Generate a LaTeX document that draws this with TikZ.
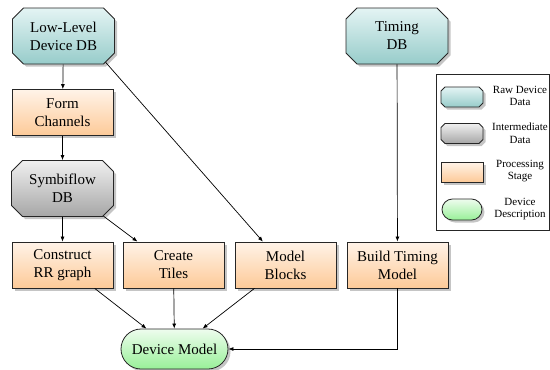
\documentclass[tikz,border=0pt]{standalone}
\usepackage{fontspec}
\setmainfont{Liberation Serif}
\usepackage{xcolor}
\usepackage{tikz}
\usetikzlibrary{shapes.misc, arrows.meta, positioning, shadows}
\definecolor{rawtop}{HTML}{E4F4F4}
\definecolor{rawbot}{HTML}{97CCCA}
\definecolor{midtop}{HTML}{F0F0F0}
\definecolor{midbot}{HTML}{A6A6A6}
\definecolor{proctop}{HTML}{FFF3E8}
\definecolor{procbot}{HTML}{FDCA98}
\definecolor{desctop}{HTML}{EEFCEE}
\definecolor{descbot}{HTML}{98F098}

\tikzset{
    box/.style={draw=black!85, line width=0.8pt, align=center, inner sep=2pt,
        font=\fontsize{15}{18}\selectfont,
        drop shadow={shadow xshift=2.5pt, shadow yshift=-2.5pt, fill=black!45}},
    rawdata/.style={box, chamfered rectangle, chamfered rectangle xsep=8pt,
        top color=rawtop, bottom color=rawbot, minimum width=102pt, minimum height=56pt},
    middata/.style={rawdata, top color=midtop, bottom color=midbot},
    stage/.style={box, rectangle, top color=proctop, bottom color=procbot,
        minimum width=101pt, minimum height=46pt},
    devdesc/.style={box, rounded rectangle, top color=desctop, bottom color=descbot,
        minimum width=111pt, minimum height=40pt},
    keytext/.style={align=center, font=\fontsize{11}{12.5}\selectfont},
    flow/.style={-{Latex[length=5pt, width=4pt]}, line width=0.7pt}
}

\begin{document}
\begin{tikzpicture}[x=1pt, y=-1pt]
\useasboundingbox (0,0) rectangle (550,370);

% data sources
\node[rawdata] (lowlevel) at (63.5,36) {Low-Level\\Device DB};
\node[rawdata] (timingdb) at (397,36) {Timing\\DB};

% left column
\node[stage] (formch) at (62.5,112.5) {Form\\Channels};
\node[middata] (symbi) at (62.5,188.5) {Symbiflow\\DB};

% processing row
\node[stage] (rrgraph) at (62.5,265) {Construct\\RR graph};
\node[stage] (tiles) at (173.5,265) {Create\\Tiles};
\node[stage] (blocks) at (285.5,265) {Model\\Blocks};
\node[stage] (timing) at (397.5,265) {Build Timing\\Model};

\node[devdesc] (devmodel) at (174.5,349) {Device Model};

\draw[flow] (lowlevel) -- (formch);
\draw[flow] (formch) -- (symbi);
\draw[flow] (lowlevel.-32) -- (blocks.134);
\draw[flow] (symbi) -- (rrgraph);
\draw[flow] (symbi.-34) -- (tiles.147);
\draw[flow] (timingdb) -- (timing);
\draw[flow] (rrgraph.-36) -- (devmodel.144);
\draw[flow] (tiles) -- (devmodel);
\draw[flow] (blocks.217) -- (devmodel.36);
\draw[flow] (timing.south) |- (devmodel.east);

% legend
\node[draw=black!85, line width=0.8pt, minimum width=113pt, minimum height=156pt] (legend) at (492.5,152) {};
\node[rawdata, minimum width=42pt, minimum height=20pt, chamfered rectangle xsep=5pt] (rawkey) at (462,97) {};
\node[keytext] (rawlbl) at (520,96) {Raw Device\\Data};
\node[middata, minimum width=42pt, minimum height=20pt, chamfered rectangle xsep=5pt] (midkey) at (462,133.5) {};
\node[keytext] (midlbl) at (520,133) {Intermediate\\Data};
\node[stage, minimum width=42pt, minimum height=20pt] (prockey) at (462,172) {};
\node[keytext] (proclbl) at (520,171) {Processing\\Stage};
\node[devdesc, minimum width=44pt, minimum height=21pt] (desckey) at (462,209.5) {};
\node[keytext] (desclbl) at (520,209) {Device\\Description};
\end{tikzpicture}
\end{document}
